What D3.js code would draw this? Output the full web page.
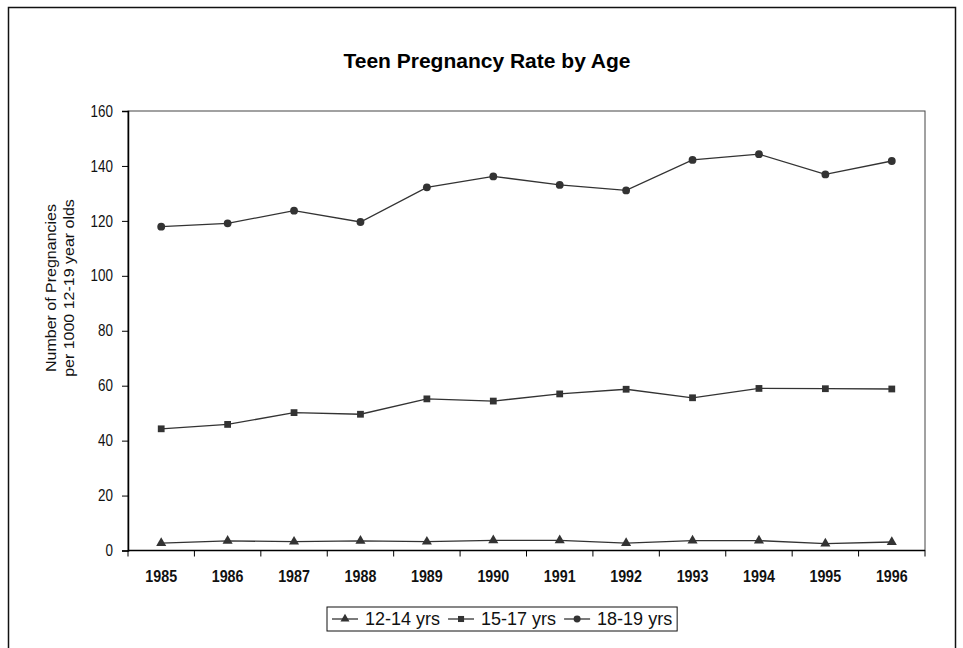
<!DOCTYPE html>
<html><head><meta charset="utf-8">
<script src="https://cdn.jsdelivr.net/npm/d3@7"></script>
<style>
body{margin:0;background:#fff;}
svg{display:block;}
</style></head>
<body><svg id="chart" width="963" height="648"></svg>
<script>
const years = ["1985","1986","1987","1988","1989","1990","1991","1992","1993","1994","1995","1996"];
const age12to14 = [2.7,3.5,3.2,3.5,3.2,3.7,3.7,2.7,3.6,3.6,2.5,3.1];
const age15to17 = [44.3,45.9,50.2,49.6,55.2,54.4,57.0,58.7,55.6,59.0,58.9,58.8];
const age18to19 = [117.9,119.1,123.7,119.6,132.2,136.2,133.1,131.1,142.2,144.3,136.9,141.8];
const seriesNames = ["12-14 yrs","15-17 yrs","18-19 yrs"];
const yTicks = [0,20,40,60,80,100,120,140,160];
const title = "Teen Pregnancy Rate by Age";
const yTitle = ["Number of Pregnancies","per 1000 12-19 year olds"];

const FONT = "Liberation Sans, Arial, sans-serif";
const NARROW = 0.84;

const series = [
  {name: seriesNames[0], values: age12to14, shape: d3.symbolTriangle, size: 44},
  {name: seriesNames[1], values: age15to17, shape: d3.symbolSquare, size: 46},
  {name: seriesNames[2], values: age18to19, shape: d3.symbolCircle, size: 48}
];

const svg = d3.select("#chart");
const ink = "#333";

// outer border
svg.append("rect").attr("x",8.5).attr("y",7.5).attr("width",947).attr("height",660)
  .attr("fill","none").attr("stroke","#111").attr("stroke-width",1.5);

const L=128, R=925, T=111, B=550.5;
const x = d3.scaleBand().domain(years).range([L,R]);
const y = d3.scaleLinear().domain([0,160]).range([B,T]);

// plot frame
svg.append("rect").attr("x",L).attr("y",T).attr("width",R-L).attr("height",B-T)
  .attr("fill","none").attr("stroke","#444").attr("stroke-width",1);

// title
svg.append("text").attr("x",487).attr("y",68).attr("text-anchor","middle")
  .attr("font-family",FONT).attr("font-weight","bold")
  .attr("font-size",21).attr("fill","#000").text(title);

// y axis
const yAxis = svg.append("g").attr("transform",`translate(${L},0)`)
  .call(d3.axisLeft(y).tickValues(yTicks).tickSize(6).tickPadding(4));
yAxis.select(".domain").attr("stroke","#000").attr("stroke-width",1.5);
yAxis.selectAll(".tick line").attr("stroke","#000");
yAxis.selectAll("text")
  .attr("font-family",FONT).attr("font-size",16).attr("fill","#111")
  .attr("x",-15/NARROW).attr("transform",`scale(${NARROW},1)`);

// x axis with ticks between categories
const xAxisG = svg.append("g").attr("transform",`translate(0,${B})`);
xAxisG.append("line").attr("x1",L).attr("x2",R).attr("stroke","#000").attr("stroke-width",1.5);
const bounds = years.map(d=>x(d)).concat([R]);
xAxisG.selectAll("line.tk").data(bounds).join("line").attr("class","tk")
  .attr("x1",d=>d).attr("x2",d=>d).attr("y1",0).attr("y2",6).attr("stroke","#000");
xAxisG.selectAll("text").data(years).join("text")
  .attr("x",d=>(x(d)+x.bandwidth()/2)/NARROW).attr("y",32)
  .attr("transform",`scale(${NARROW},1)`)
  .attr("text-anchor","middle").attr("font-family",FONT).attr("font-weight","bold")
  .attr("font-size",17).attr("fill","#111")
  .text(d=>d);

// y title
const yt = svg.append("text").attr("font-family",FONT).attr("font-size",16).attr("fill","#111")
  .attr("text-anchor","middle").attr("transform","translate(56,288) rotate(-90) scale(1,0.92)");
yt.selectAll("tspan").data(yTitle).join("tspan").attr("x",0).attr("dy",(d,i)=>i===0?0:19.5).text(d=>d);

// lines and markers
const line = d3.line().x((d,i)=>x(years[i])+x.bandwidth()/2).y(d=>y(d));
series.forEach(s=>{
  svg.append("path").attr("d",line(s.values)).attr("fill","none").attr("stroke",ink).attr("stroke-width",1.3);
  svg.selectAll(null).data(s.values).join("path")
    .attr("d",d3.symbol().type(s.shape).size(s.size))
    .attr("transform",(d,i)=>`translate(${x(years[i])+x.bandwidth()/2},${y(d)})`)
    .attr("fill",ink);
});

// legend
const lg = svg.append("g");
const lgBox = lg.append("rect").attr("fill","#fff").attr("stroke","#111").attr("stroke-width",1);
let cx = 332;
const ly = 619;
series.forEach(s=>{
  lg.append("line").attr("x1",cx).attr("x2",cx+26).attr("y1",ly).attr("y2",ly).attr("stroke",ink).attr("stroke-width",1.3);
  lg.append("path").attr("d",d3.symbol().type(s.shape).size(s.size*0.8)).attr("transform",`translate(${cx+13},${ly})`).attr("fill",ink);
  const t = lg.append("text").attr("x",cx+33).attr("y",ly+6).attr("font-family",FONT)
    .attr("font-size",18).attr("fill","#111").text(s.name);
  cx = cx + 33 + t.node().getComputedTextLength() + 8;
});
lgBox.attr("x",327).attr("y",607).attr("width",cx-327-3).attr("height",24);
</script></body></html>
